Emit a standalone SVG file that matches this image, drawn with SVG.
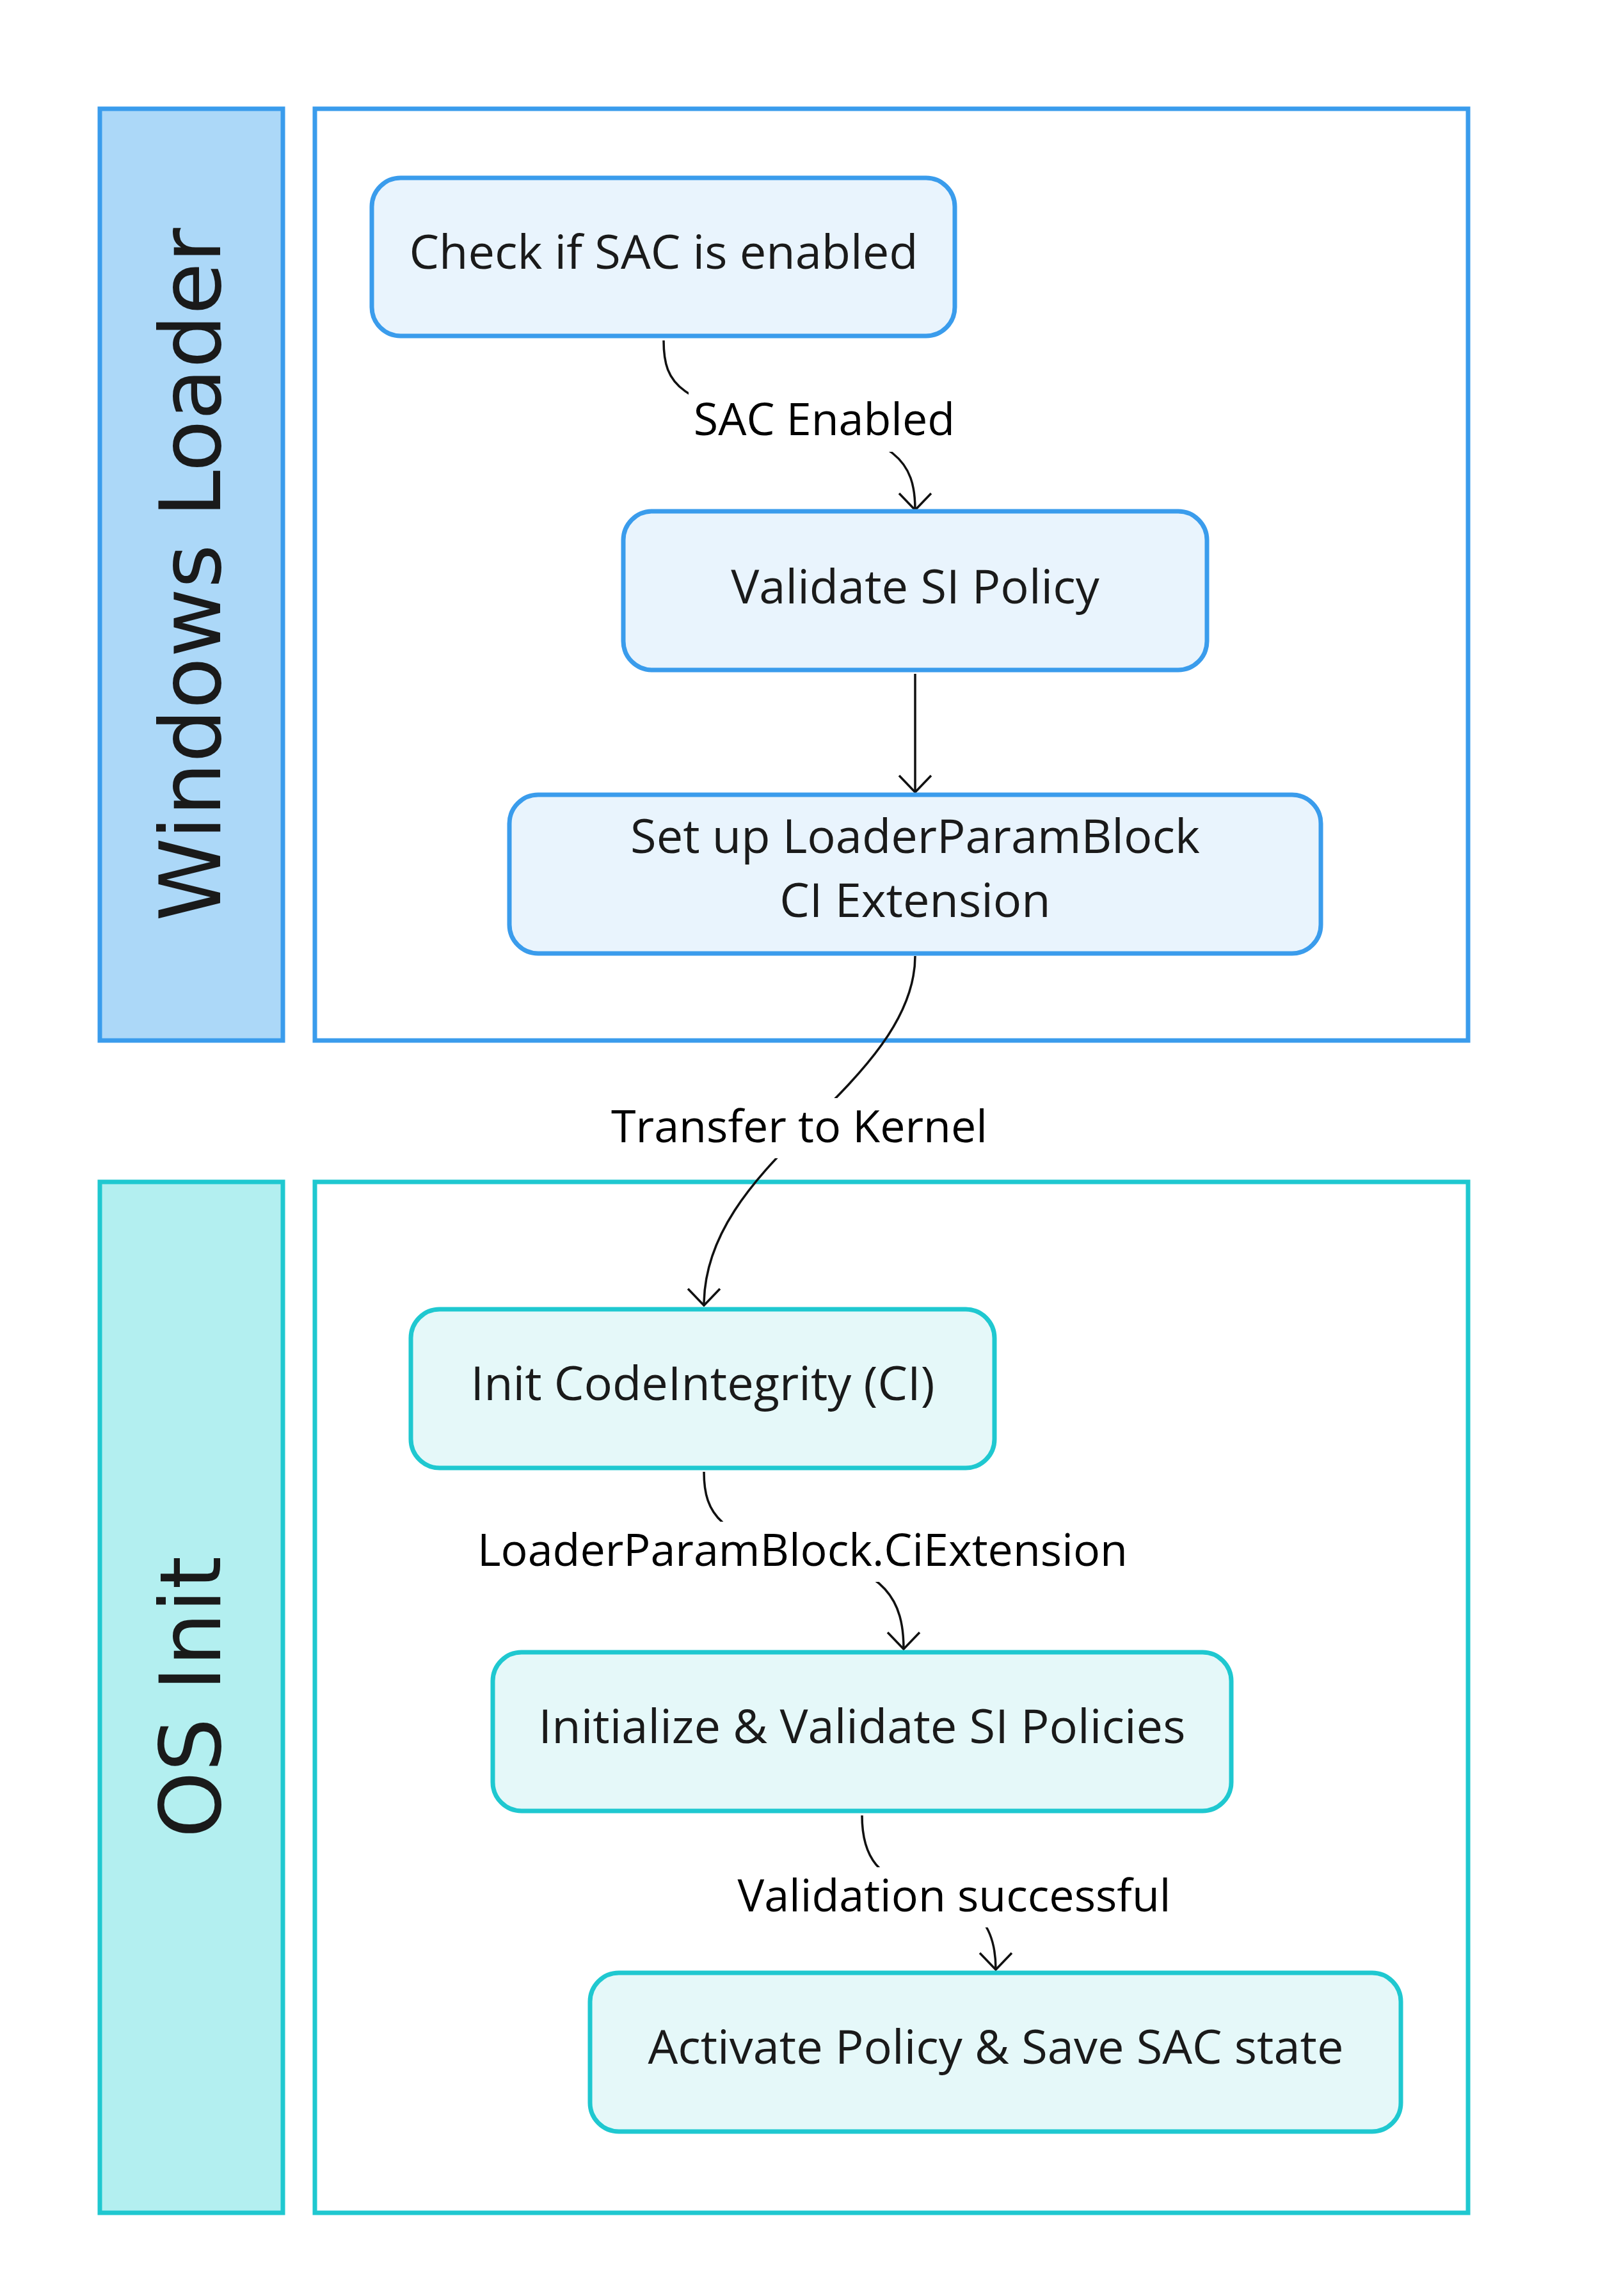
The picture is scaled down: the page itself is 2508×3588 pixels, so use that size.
<svg xmlns="http://www.w3.org/2000/svg" width="2508" height="3588" viewBox="0 0 2508 3588">
<style>
.bg{fill:#ffffff}
.laneA{fill:#ffffff;stroke:#3a9cec;stroke-width:7}
.bandA{fill:#acd8f8;stroke:#3a9cec;stroke-width:7}
.laneB{fill:#ffffff;stroke:#1fc8d0;stroke-width:7}
.bandB{fill:#b3eff0;stroke:#1fc8d0;stroke-width:7}
.nodeA{fill:#e9f4fd;stroke:#3a9cec;stroke-width:7}
.nodeB{fill:#e5f8f9;stroke:#1fc8d0;stroke-width:7}
.title{font-family:"DejaVu Sans",sans-serif;font-size:132px;fill:#1a1a1a;text-anchor:middle}
.ntxt{font-family:"Open Sans","Noto Sans",sans-serif;font-size:74px;fill:#1a1a1a;text-anchor:middle}
.ltxt{font-family:"Open Sans","Noto Sans",sans-serif;font-size:70px;fill:#000000;text-anchor:middle}
.edge{fill:none;stroke:#111111;stroke-width:3.5}
.lblbg{fill:#ffffff}
</style>
<defs>
<marker id="arrow" viewBox="0 0 30 60" refX="28" refY="30" markerWidth="30" markerHeight="60" markerUnits="userSpaceOnUse" orient="auto">
<path d="M2,5 L28,30 L2,55" fill="none" stroke="#111111" stroke-width="3.5"/>
</marker>
</defs>
<rect class="bg" x="0" y="0" width="2508" height="3588"/>
<g id="lane-windows-loader">
<rect class="bandA" x="156" y="170" width="286" height="1456"/>
<rect class="laneA" x="492" y="170" width="1802" height="1456"/>
<text class="title" x="344" y="898" transform="rotate(-90 344 898)">Windows Loader</text>
</g>
<g id="lane-os-init">
<rect class="bandB" x="156" y="1847" width="286" height="1611"/>
<rect class="laneB" x="492" y="1847" width="1802" height="1611"/>
<text class="title" x="344" y="2652" transform="rotate(-90 344 2652)">OS Init</text>
</g>
<g id="connectors">
<path class="edge" d="M1037,532 C1037,602 1062,632 1232,657 C1402,682 1430,722 1430,797" marker-end="url(#arrow)"/>
<path class="edge" d="M1430,1053 L1430,1238" marker-end="url(#arrow)"/>
<path class="edge" d="M1430,1494 C1430,1600 1332,1690 1254,1768 C1176,1846 1100,1930 1100,2040" marker-end="url(#arrow)"/>
<path class="edge" d="M1100,2300 C1100,2367 1126,2402 1256,2427 C1386,2452 1412,2502 1412,2577" marker-end="url(#arrow)"/>
<path class="edge" d="M1347,2837 C1347,2902 1371,2937 1451,2957 C1531,2977 1556,3012 1556,3078" marker-end="url(#arrow)"/>
<g id="edge-labels">
<rect class="lblbg" x="1076" y="612" width="424" height="94"/>
<text class="ltxt" x="1288" y="680">SAC Enabled</text>
<rect class="lblbg" x="944" y="1716" width="612" height="94"/>
<text class="ltxt" x="1249" y="1785">Transfer to Kernel</text>
<rect class="lblbg" x="730" y="2378" width="1048" height="94"/>
<text class="ltxt" x="1254" y="2447">LoaderParamBlock.CiExtension</text>
<rect class="lblbg" x="1140" y="2918" width="702" height="94"/>
<text class="ltxt" x="1491" y="2987">Validation successful</text>
</g>
</g>
<g id="node-check-sac">
<rect class="nodeA" x="581" y="278" width="911" height="247" rx="45" ry="45"/>
<text class="ntxt" x="1037" y="420">Check if SAC is enabled</text>
</g>
<g id="node-validate-si">
<rect class="nodeA" x="974" y="799" width="912" height="248" rx="45" ry="45"/>
<text class="ntxt" x="1430" y="943">Validate SI Policy</text>
</g>
<g id="node-setup-lpb">
<rect class="nodeA" x="796" y="1242" width="1268" height="248" rx="45" ry="45"/>
<text class="ntxt" x="1430" y="1333">Set up LoaderParamBlock</text>
<text class="ntxt" x="1430" y="1433">CI Extension</text>
</g>
<g id="node-init-ci">
<rect class="nodeB" x="642" y="2046" width="912" height="248" rx="45" ry="45"/>
<text class="ntxt" x="1098" y="2188">Init CodeIntegrity (CI)</text>
</g>
<g id="node-init-validate">
<rect class="nodeB" x="770" y="2582" width="1154" height="248" rx="45" ry="45"/>
<text class="ntxt" x="1347" y="2724">Initialize &amp; Validate SI Policies</text>
</g>
<g id="node-activate">
<rect class="nodeB" x="922" y="3083" width="1267" height="248" rx="45" ry="45"/>
<text class="ntxt" x="1556" y="3225">Activate Policy &amp; Save SAC state</text>
</g>
</svg>
